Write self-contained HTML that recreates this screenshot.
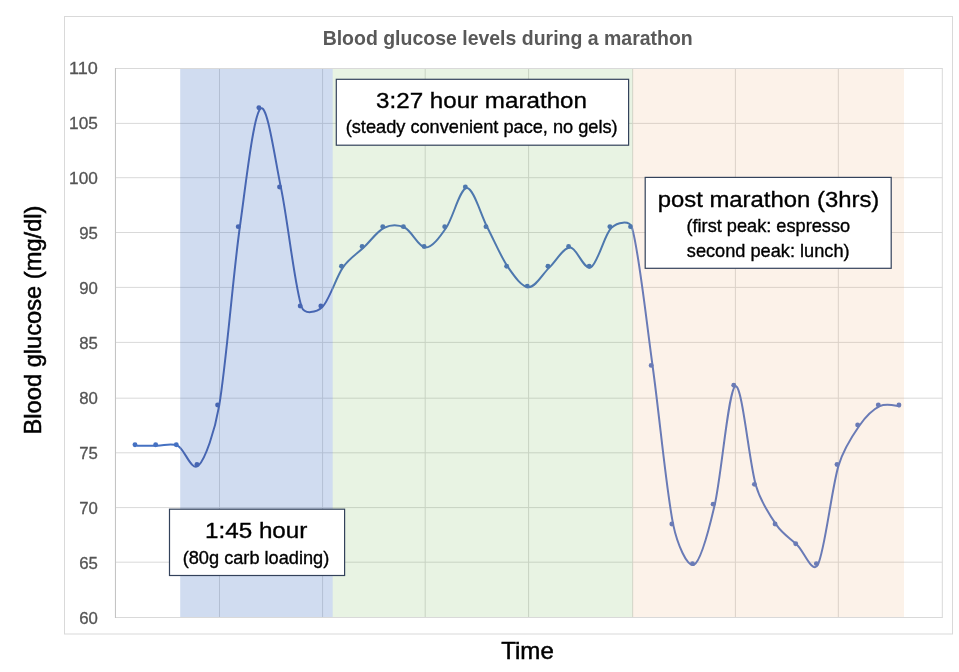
<!DOCTYPE html>
<html><head><meta charset="utf-8"><title>Blood glucose levels during a marathon</title>
<style>html,body{margin:0;padding:0;background:#fff;overflow:hidden}svg{display:block}
text{font-family:'Liberation Sans', Arial, sans-serif}</style></head>
<body><svg width="959" height="672" viewBox="0 0 959 672">
<rect x="0" y="0" width="959" height="672" fill="#fff"/>
<rect x="64.5" y="16.5" width="888" height="617.5" fill="#fff" stroke="#D9D9D9" stroke-width="1"/>
<line x1="115.4" y1="68.5" x2="942.3" y2="68.5" stroke="#D9D9D9" stroke-width="1"/>
<line x1="115.4" y1="123.4" x2="942.3" y2="123.4" stroke="#D9D9D9" stroke-width="1"/>
<line x1="115.4" y1="177.7" x2="942.3" y2="177.7" stroke="#D9D9D9" stroke-width="1"/>
<line x1="115.4" y1="232.5" x2="942.3" y2="232.5" stroke="#D9D9D9" stroke-width="1"/>
<line x1="115.4" y1="287.4" x2="942.3" y2="287.4" stroke="#D9D9D9" stroke-width="1"/>
<line x1="115.4" y1="342.4" x2="942.3" y2="342.4" stroke="#D9D9D9" stroke-width="1"/>
<line x1="115.4" y1="398.2" x2="942.3" y2="398.2" stroke="#D9D9D9" stroke-width="1"/>
<line x1="115.4" y1="452.8" x2="942.3" y2="452.8" stroke="#D9D9D9" stroke-width="1"/>
<line x1="115.4" y1="507.6" x2="942.3" y2="507.6" stroke="#D9D9D9" stroke-width="1"/>
<line x1="115.4" y1="562.2" x2="942.3" y2="562.2" stroke="#D9D9D9" stroke-width="1"/>
<line x1="115.4" y1="617.5" x2="942.3" y2="617.5" stroke="#D9D9D9" stroke-width="1"/>
<line x1="219.5" y1="68.5" x2="219.5" y2="617.5" stroke="#D9D9D9" stroke-width="1"/>
<line x1="322.6" y1="68.5" x2="322.6" y2="617.5" stroke="#D9D9D9" stroke-width="1"/>
<line x1="425.2" y1="68.5" x2="425.2" y2="617.5" stroke="#D9D9D9" stroke-width="1"/>
<line x1="528.6" y1="68.5" x2="528.6" y2="617.5" stroke="#D9D9D9" stroke-width="1"/>
<line x1="632.7" y1="68.5" x2="632.7" y2="617.5" stroke="#D9D9D9" stroke-width="1"/>
<line x1="735.4" y1="68.5" x2="735.4" y2="617.5" stroke="#D9D9D9" stroke-width="1"/>
<line x1="838.3" y1="68.5" x2="838.3" y2="617.5" stroke="#D9D9D9" stroke-width="1"/>
<rect x="180.2" y="68.5" width="152.5" height="549.0" fill="#4472C4" fill-opacity="0.25"/>
<rect x="332.7" y="68.5" width="299.9" height="549.0" fill="#70B450" fill-opacity="0.16"/>
<rect x="632.6" y="68.5" width="271.4" height="549.0" fill="#EBA86C" fill-opacity="0.15"/>
<defs><clipPath id="cw"><rect x="0" y="0" width="180.2" height="672"/><rect x="904" y="0" width="60" height="672"/></clipPath><clipPath id="cb"><rect x="180.2" y="0" width="152.5" height="672"/></clipPath><clipPath id="cg"><rect x="332.7" y="0" width="299.9" height="672"/></clipPath><clipPath id="co"><rect x="632.6" y="0" width="271.4" height="672"/></clipPath></defs>
<g clip-path="url(#cw)" fill="#4571C2"><path d="M136.50,445.80 C139.94,445.80 150.26,445.80 157.15,445.80 C164.03,445.80 170.91,442.50 177.79,445.80 C184.68,449.11 191.56,472.23 198.44,465.63 C205.32,459.02 214.78,430.97 219.09,406.16 C225.97,366.51 232.85,277.31 239.73,227.75 C246.38,179.92 253.50,115.42 260.38,108.81 C267.26,102.21 274.35,156.02 281.03,188.10 C287.91,221.14 294.79,287.22 301.68,307.04 C304.38,314.84 316.37,312.76 322.32,307.04 C329.21,300.44 336.09,277.31 342.97,267.40 C349.50,257.99 356.73,254.18 363.62,247.57 C370.50,240.97 377.38,231.05 384.26,227.75 C391.15,224.45 398.03,224.45 404.91,227.75 C411.79,231.05 418.68,247.57 425.56,247.57 C432.44,247.57 439.67,237.16 446.20,227.75 C453.09,217.84 459.97,188.10 466.85,188.10 C473.73,188.10 480.62,214.54 487.50,227.75 C494.38,240.97 501.26,257.49 508.15,267.40 C514.68,276.80 521.91,287.22 528.79,287.22 C535.68,287.22 542.56,274.00 549.44,267.40 C556.32,260.79 563.20,247.57 570.09,247.57 C576.97,247.57 583.85,270.70 590.73,267.40 C597.62,264.09 604.50,234.36 611.38,227.75 C617.34,222.03 629.67,219.84 632.03,227.75 C638.91,250.88 645.79,316.95 652.67,366.51 C659.56,416.07 666.44,492.06 673.32,525.10 C676.97,542.60 687.09,568.05 693.97,564.74 C700.85,561.44 708.94,529.80 714.62,505.27 C721.50,475.54 728.38,389.64 735.26,386.34 C742.15,383.03 749.03,462.32 755.91,485.45 C761.01,502.59 769.67,515.18 776.56,525.10 C783.09,534.50 790.32,538.31 797.20,544.92 C804.09,551.53 812.56,574.90 817.85,564.74 C824.73,551.53 831.62,488.75 838.50,465.63 C843.60,448.49 852.26,435.89 859.14,425.98 C865.68,416.58 872.91,409.46 879.79,406.16 C886.67,402.85 897.00,406.16 900.44,406.16" fill="none" stroke="#4571C2" stroke-width="2.0" stroke-linejoin="round"/>
<circle cx="135.00" cy="444.70" r="2.45"/>
<circle cx="155.65" cy="444.70" r="2.45"/>
<circle cx="176.29" cy="444.70" r="2.45"/>
</g>
<g clip-path="url(#cb)" fill="#4766B2"><path d="M136.50,445.80 C139.94,445.80 150.26,445.80 157.15,445.80 C164.03,445.80 170.91,442.50 177.79,445.80 C184.68,449.11 191.56,472.23 198.44,465.63 C205.32,459.02 214.78,430.97 219.09,406.16 C225.97,366.51 232.85,277.31 239.73,227.75 C246.38,179.92 253.50,115.42 260.38,108.81 C267.26,102.21 274.35,156.02 281.03,188.10 C287.91,221.14 294.79,287.22 301.68,307.04 C304.38,314.84 316.37,312.76 322.32,307.04 C329.21,300.44 336.09,277.31 342.97,267.40 C349.50,257.99 356.73,254.18 363.62,247.57 C370.50,240.97 377.38,231.05 384.26,227.75 C391.15,224.45 398.03,224.45 404.91,227.75 C411.79,231.05 418.68,247.57 425.56,247.57 C432.44,247.57 439.67,237.16 446.20,227.75 C453.09,217.84 459.97,188.10 466.85,188.10 C473.73,188.10 480.62,214.54 487.50,227.75 C494.38,240.97 501.26,257.49 508.15,267.40 C514.68,276.80 521.91,287.22 528.79,287.22 C535.68,287.22 542.56,274.00 549.44,267.40 C556.32,260.79 563.20,247.57 570.09,247.57 C576.97,247.57 583.85,270.70 590.73,267.40 C597.62,264.09 604.50,234.36 611.38,227.75 C617.34,222.03 629.67,219.84 632.03,227.75 C638.91,250.88 645.79,316.95 652.67,366.51 C659.56,416.07 666.44,492.06 673.32,525.10 C676.97,542.60 687.09,568.05 693.97,564.74 C700.85,561.44 708.94,529.80 714.62,505.27 C721.50,475.54 728.38,389.64 735.26,386.34 C742.15,383.03 749.03,462.32 755.91,485.45 C761.01,502.59 769.67,515.18 776.56,525.10 C783.09,534.50 790.32,538.31 797.20,544.92 C804.09,551.53 812.56,574.90 817.85,564.74 C824.73,551.53 831.62,488.75 838.50,465.63 C843.60,448.49 852.26,435.89 859.14,425.98 C865.68,416.58 872.91,409.46 879.79,406.16 C886.67,402.85 897.00,406.16 900.44,406.16" fill="none" stroke="#4766B2" stroke-width="2.0" stroke-linejoin="round"/>
<circle cx="196.94" cy="464.53" r="2.45"/>
<circle cx="217.59" cy="405.06" r="2.45"/>
<circle cx="238.23" cy="226.65" r="2.45"/>
<circle cx="258.88" cy="107.71" r="2.45"/>
<circle cx="279.53" cy="187.00" r="2.45"/>
<circle cx="300.18" cy="305.94" r="2.45"/>
<circle cx="320.82" cy="305.94" r="2.45"/>
</g>
<g clip-path="url(#cg)" fill="#4E78AE"><path d="M136.50,445.80 C139.94,445.80 150.26,445.80 157.15,445.80 C164.03,445.80 170.91,442.50 177.79,445.80 C184.68,449.11 191.56,472.23 198.44,465.63 C205.32,459.02 214.78,430.97 219.09,406.16 C225.97,366.51 232.85,277.31 239.73,227.75 C246.38,179.92 253.50,115.42 260.38,108.81 C267.26,102.21 274.35,156.02 281.03,188.10 C287.91,221.14 294.79,287.22 301.68,307.04 C304.38,314.84 316.37,312.76 322.32,307.04 C329.21,300.44 336.09,277.31 342.97,267.40 C349.50,257.99 356.73,254.18 363.62,247.57 C370.50,240.97 377.38,231.05 384.26,227.75 C391.15,224.45 398.03,224.45 404.91,227.75 C411.79,231.05 418.68,247.57 425.56,247.57 C432.44,247.57 439.67,237.16 446.20,227.75 C453.09,217.84 459.97,188.10 466.85,188.10 C473.73,188.10 480.62,214.54 487.50,227.75 C494.38,240.97 501.26,257.49 508.15,267.40 C514.68,276.80 521.91,287.22 528.79,287.22 C535.68,287.22 542.56,274.00 549.44,267.40 C556.32,260.79 563.20,247.57 570.09,247.57 C576.97,247.57 583.85,270.70 590.73,267.40 C597.62,264.09 604.50,234.36 611.38,227.75 C617.34,222.03 629.67,219.84 632.03,227.75 C638.91,250.88 645.79,316.95 652.67,366.51 C659.56,416.07 666.44,492.06 673.32,525.10 C676.97,542.60 687.09,568.05 693.97,564.74 C700.85,561.44 708.94,529.80 714.62,505.27 C721.50,475.54 728.38,389.64 735.26,386.34 C742.15,383.03 749.03,462.32 755.91,485.45 C761.01,502.59 769.67,515.18 776.56,525.10 C783.09,534.50 790.32,538.31 797.20,544.92 C804.09,551.53 812.56,574.90 817.85,564.74 C824.73,551.53 831.62,488.75 838.50,465.63 C843.60,448.49 852.26,435.89 859.14,425.98 C865.68,416.58 872.91,409.46 879.79,406.16 C886.67,402.85 897.00,406.16 900.44,406.16" fill="none" stroke="#4E78AE" stroke-width="2.0" stroke-linejoin="round"/>
<circle cx="341.47" cy="266.30" r="2.45"/>
<circle cx="362.12" cy="246.47" r="2.45"/>
<circle cx="382.76" cy="226.65" r="2.45"/>
<circle cx="403.41" cy="226.65" r="2.45"/>
<circle cx="424.06" cy="246.47" r="2.45"/>
<circle cx="444.70" cy="226.65" r="2.45"/>
<circle cx="465.35" cy="187.00" r="2.45"/>
<circle cx="486.00" cy="226.65" r="2.45"/>
<circle cx="506.65" cy="266.30" r="2.45"/>
<circle cx="527.29" cy="286.12" r="2.45"/>
<circle cx="547.94" cy="266.30" r="2.45"/>
<circle cx="568.59" cy="246.47" r="2.45"/>
<circle cx="589.23" cy="266.30" r="2.45"/>
<circle cx="609.88" cy="226.65" r="2.45"/>
<circle cx="630.53" cy="226.65" r="2.45"/>
</g>
<g clip-path="url(#co)" fill="#6A7BB6"><path d="M136.50,445.80 C139.94,445.80 150.26,445.80 157.15,445.80 C164.03,445.80 170.91,442.50 177.79,445.80 C184.68,449.11 191.56,472.23 198.44,465.63 C205.32,459.02 214.78,430.97 219.09,406.16 C225.97,366.51 232.85,277.31 239.73,227.75 C246.38,179.92 253.50,115.42 260.38,108.81 C267.26,102.21 274.35,156.02 281.03,188.10 C287.91,221.14 294.79,287.22 301.68,307.04 C304.38,314.84 316.37,312.76 322.32,307.04 C329.21,300.44 336.09,277.31 342.97,267.40 C349.50,257.99 356.73,254.18 363.62,247.57 C370.50,240.97 377.38,231.05 384.26,227.75 C391.15,224.45 398.03,224.45 404.91,227.75 C411.79,231.05 418.68,247.57 425.56,247.57 C432.44,247.57 439.67,237.16 446.20,227.75 C453.09,217.84 459.97,188.10 466.85,188.10 C473.73,188.10 480.62,214.54 487.50,227.75 C494.38,240.97 501.26,257.49 508.15,267.40 C514.68,276.80 521.91,287.22 528.79,287.22 C535.68,287.22 542.56,274.00 549.44,267.40 C556.32,260.79 563.20,247.57 570.09,247.57 C576.97,247.57 583.85,270.70 590.73,267.40 C597.62,264.09 604.50,234.36 611.38,227.75 C617.34,222.03 629.67,219.84 632.03,227.75 C638.91,250.88 645.79,316.95 652.67,366.51 C659.56,416.07 666.44,492.06 673.32,525.10 C676.97,542.60 687.09,568.05 693.97,564.74 C700.85,561.44 708.94,529.80 714.62,505.27 C721.50,475.54 728.38,389.64 735.26,386.34 C742.15,383.03 749.03,462.32 755.91,485.45 C761.01,502.59 769.67,515.18 776.56,525.10 C783.09,534.50 790.32,538.31 797.20,544.92 C804.09,551.53 812.56,574.90 817.85,564.74 C824.73,551.53 831.62,488.75 838.50,465.63 C843.60,448.49 852.26,435.89 859.14,425.98 C865.68,416.58 872.91,409.46 879.79,406.16 C886.67,402.85 897.00,406.16 900.44,406.16" fill="none" stroke="#6A7BB6" stroke-width="2.0" stroke-linejoin="round"/>
<circle cx="630.53" cy="226.65" r="2.45"/>
<circle cx="651.17" cy="365.41" r="2.45"/>
<circle cx="671.82" cy="524.00" r="2.45"/>
<circle cx="692.47" cy="563.64" r="2.45"/>
<circle cx="713.12" cy="504.17" r="2.45"/>
<circle cx="733.76" cy="385.24" r="2.45"/>
<circle cx="754.41" cy="484.35" r="2.45"/>
<circle cx="775.06" cy="524.00" r="2.45"/>
<circle cx="795.70" cy="543.82" r="2.45"/>
<circle cx="816.35" cy="563.64" r="2.45"/>
<circle cx="837.00" cy="464.53" r="2.45"/>
<circle cx="857.64" cy="424.88" r="2.45"/>
<circle cx="878.29" cy="405.06" r="2.45"/>
<circle cx="898.94" cy="405.06" r="2.45"/>
</g>
<rect x="115.4" y="68.5" width="826.9" height="549.0" fill="none" stroke="#D9D9D9" stroke-width="1"/>
<line x1="115.5" y1="68.0" x2="115.5" y2="618.0" stroke="#C4C4C4" stroke-width="1"/>
<text x="97.9" y="74.0" font-size="16.80" fill="#555555" text-anchor="end" font-weight="normal" textLength="28.8" lengthAdjust="spacingAndGlyphs" stroke="#555555" stroke-width="0.30">110</text>
<text x="97.9" y="129.0" font-size="16.80" fill="#555555" text-anchor="end" font-weight="normal" textLength="28.8" lengthAdjust="spacingAndGlyphs" stroke="#555555" stroke-width="0.30">105</text>
<text x="97.9" y="184.0" font-size="16.80" fill="#555555" text-anchor="end" font-weight="normal" textLength="28.8" lengthAdjust="spacingAndGlyphs" stroke="#555555" stroke-width="0.30">100</text>
<text x="97.9" y="239.0" font-size="16.80" fill="#555555" text-anchor="end" font-weight="normal" stroke="#555555" stroke-width="0.30">95</text>
<text x="97.9" y="294.0" font-size="16.80" fill="#555555" text-anchor="end" font-weight="normal" stroke="#555555" stroke-width="0.30">90</text>
<text x="97.9" y="349.0" font-size="16.80" fill="#555555" text-anchor="end" font-weight="normal" stroke="#555555" stroke-width="0.30">85</text>
<text x="97.9" y="404.0" font-size="16.80" fill="#555555" text-anchor="end" font-weight="normal" stroke="#555555" stroke-width="0.30">80</text>
<text x="97.9" y="459.0" font-size="16.80" fill="#555555" text-anchor="end" font-weight="normal" stroke="#555555" stroke-width="0.30">75</text>
<text x="97.9" y="514.0" font-size="16.80" fill="#555555" text-anchor="end" font-weight="normal" stroke="#555555" stroke-width="0.30">70</text>
<text x="97.9" y="569.0" font-size="16.80" fill="#555555" text-anchor="end" font-weight="normal" stroke="#555555" stroke-width="0.30">65</text>
<text x="97.9" y="623.9" font-size="16.80" fill="#555555" text-anchor="end" font-weight="normal" stroke="#555555" stroke-width="0.30">60</text>
<text x="507.7" y="44.8" font-size="19.70" fill="#595959" text-anchor="middle" font-weight="bold" textLength="370.1" lengthAdjust="spacingAndGlyphs">Blood glucose levels during a marathon</text>
<text x="527.5" y="658.7" font-size="23.20" fill="#000" text-anchor="middle" font-weight="normal" textLength="52.6" lengthAdjust="spacingAndGlyphs" stroke="#000" stroke-width="0.50">Time</text>
<text transform="translate(41.2,320) rotate(-90)" x="0" y="0" font-size="23.2" text-anchor="middle" fill="#000" stroke="#000" stroke-width="0.5" textLength="229" lengthAdjust="spacingAndGlyphs">Blood glucose (mg/dl)</text>
<rect x="336.3" y="79.3" width="292.3" height="65.9" fill="#fff" stroke="#33425B" stroke-width="1.2"/>
<text x="481.5" y="107.7" font-size="22.90" fill="#000" text-anchor="middle" font-weight="normal" textLength="210.9" lengthAdjust="spacingAndGlyphs" stroke="#000" stroke-width="0.35">3:27 hour marathon</text>
<text x="481.7" y="133.3" font-size="18.20" fill="#000" text-anchor="middle" font-weight="normal" stroke="#000" stroke-width="0.35">(steady convenient pace, no gels)</text>
<rect x="645.2" y="177.4" width="246.0" height="90.9" fill="#fff" stroke="#33425B" stroke-width="1.2"/>
<text x="768.5" y="206.8" font-size="22.90" fill="#000" text-anchor="middle" font-weight="normal" textLength="221.6" lengthAdjust="spacingAndGlyphs" stroke="#000" stroke-width="0.35">post marathon (3hrs)</text>
<text x="768.3" y="232.3" font-size="18.20" fill="#000" text-anchor="middle" font-weight="normal" stroke="#000" stroke-width="0.35">(first peak: espresso</text>
<text x="768.2" y="256.6" font-size="18.20" fill="#000" text-anchor="middle" font-weight="normal" stroke="#000" stroke-width="0.35">second peak: lunch)</text>
<rect x="169.5" y="509.2" width="175.1" height="66.3" fill="#fff" stroke="#33425B" stroke-width="1.2"/>
<text x="256.2" y="537.9" font-size="22.90" fill="#000" text-anchor="middle" font-weight="normal" textLength="102.4" lengthAdjust="spacingAndGlyphs" stroke="#000" stroke-width="0.35">1:45 hour</text>
<text x="256.0" y="563.6" font-size="18.20" fill="#000" text-anchor="middle" font-weight="normal" stroke="#000" stroke-width="0.35">(80g carb loading)</text>
</svg></body></html>
